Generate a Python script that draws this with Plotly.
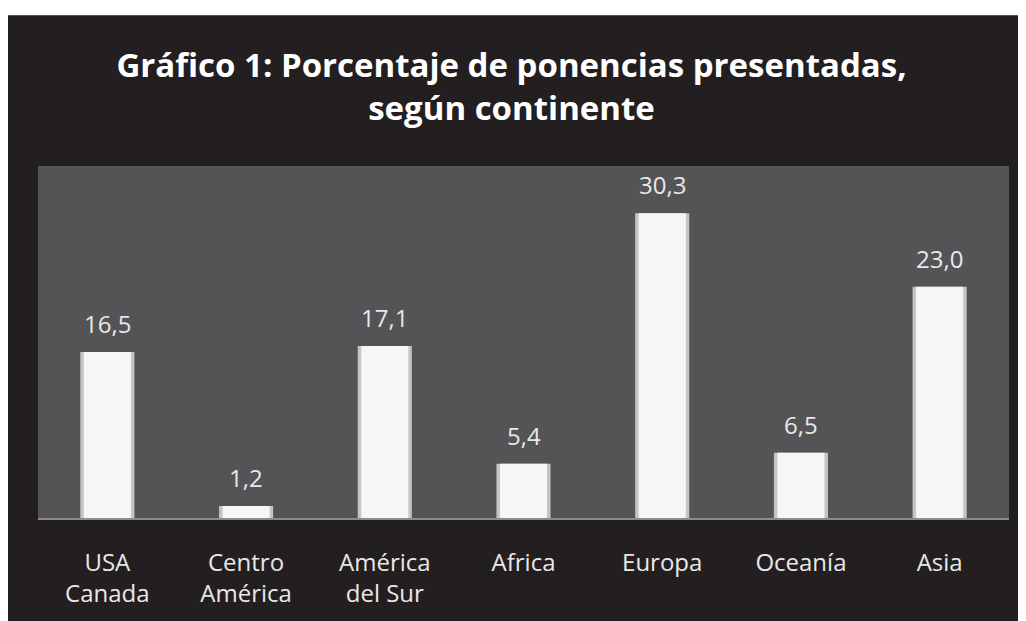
import plotly.graph_objects as go

categories = ["USA<br>Canada", "Centro<br>América", "América<br>del Sur", "Africa", "Europa", "Oceanía", "Asia"]
values = [16.5, 1.2, 17.1, 5.4, 30.3, 6.5, 23.0]
value_labels = ["16,5", "1,2", "17,1", "5,4", "30,3", "6,5", "23,0"]

# figure is placed by the page at (8, 8); sizes chosen so it fits the window
W, H = 1018, 613
L, R, T, B = 30, 17, 158, 98
pw, ph = W - L - R, H - T - B

def px_x(p):
    return (p - L) / pw

def px_y(p):
    return (H - B - p) / ph

fig = go.Figure()
# bevel edge (outer, greyish)
fig.add_trace(go.Bar(x=categories, y=values, width=0.39,
                     marker=dict(color="#c4c4c6", line=dict(width=0)),
                     hoverinfo="skip", showlegend=False))
# bright face
fig.add_trace(go.Bar(x=categories, y=values, width=0.34,
                     marker=dict(color="#f6f6f6", line=dict(width=0)),
                     showlegend=False))

annotations = [
    dict(x=c, y=v, xref="x", yref="y", text=t, showarrow=False,
         yanchor="bottom", yshift=10,
         font=dict(color="#e8e8e8", size=24, family="Open Sans"))
    for c, v, t in zip(categories, values, value_labels)
]

fig.update_layout(
    width=W, height=H,
    margin=dict(l=L, r=R, t=T, b=B),
    paper_bgcolor="#231f20",
    plot_bgcolor="rgba(0,0,0,0)",
    barmode="overlay",
    title=dict(text="<b>Gráfico 1: Porcentaje de ponencias presentadas,<br>según continente</b>",
               x=0.4946, xanchor="center", y=0.888, yanchor="middle",
               font=dict(color="white", size=33, family="Open Sans")),
    annotations=annotations,
    shapes=[
        dict(type="rect", xref="paper", yref="paper", layer="below",
             x0=px_x(-5), x1=px_x(W + 5), y0=px_y(5), y1=px_y(-5),
             fillcolor="white", line=dict(width=0)),
        dict(type="rect", xref="paper", yref="paper", layer="below",
             x0=0, x1=1, y0=0, y1=1,
             fillcolor="#545456", line=dict(width=0)),
    ],
    xaxis=dict(showline=True, linecolor="#8c8c8c", linewidth=2,
               tickfont=dict(color="#e8e8e8", size=24, family="Open Sans"),
               ticks="", ticklabelstandoff=22, showgrid=False, fixedrange=True),
    yaxis=dict(range=[0, 35], visible=False, showgrid=False, fixedrange=True),
)

fig.write_html("out.html")
